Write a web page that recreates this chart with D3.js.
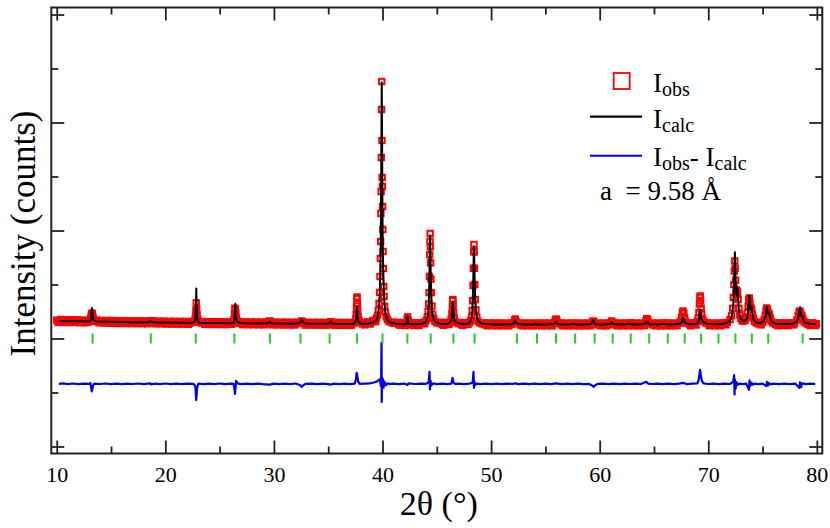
<!DOCTYPE html>
<html>
<head>
<meta charset="utf-8">
<script src="https://cdn.jsdelivr.net/npm/d3@7"></script>
<style>
  body { margin: 0; background: #fff; }
  text { font-family: "Liberation Serif", "Times New Roman", serif; fill: #000; }
</style>
</head>
<body>
<div id="chart"></div>
<script>
// observed intensity, [2theta, counts]
const iObs = [
  [10.0,340],[10.25,312],[10.5,345],[10.75,318],[11.0,335],[11.25,305],[11.5,330],[11.75,340],[12.0,300],[12.25,328],[12.5,310],[12.75,332],
  [12.95,318],[13.05,335],[13.12,370],[13.17,410],[13.21,455],[13.25,470],[13.29,440],[13.33,400],[13.38,360],[13.45,330],[13.55,318],
  [13.75,325],[14.0,300],[14.25,322],[14.5,305],[14.75,330],[15.0,296],[15.25,318],[15.5,300],[15.75,325],[16.0,292],[16.25,315],[16.5,305],
  [16.75,290],[17.0,320],[17.25,298],[17.5,310],[17.75,285],[18.0,315],[18.25,290],[18.5,305],[18.62,320],[18.68,330],[18.75,300],
  [19.0,285],[19.25,308],[19.5,290],[19.75,315],[20.0,280],[20.25,302],[20.5,288],[20.75,306],[21.0,300],[21.25,278],[21.5,300],[21.75,285],
  [22.0,303],[22.25,280],[22.5,298],
  [22.65,305],[22.72,340],[22.77,400],[22.81,520],[22.85,660],[22.89,560],[22.93,440],[22.98,360],[23.05,320],[23.15,300],
  [23.35,285],[23.6,298],[23.85,276],[24.1,296],[24.35,280],[24.6,292],[24.85,272],[25.1,295],[25.35,278],[25.6,290],[25.85,270],[26.1,292],
  [26.25,300],[26.32,350],[26.37,450],[26.41,560],[26.45,540],[26.5,470],[26.56,380],[26.63,320],[26.72,295],
  [26.85,278],[27.1,290],[27.35,270],[27.6,288],[27.85,268],[28.1,285],[28.35,272],[28.6,290],[28.85,265],[29.1,284],[29.35,270],
  [29.52,300],[29.6,325],[29.68,315],[29.78,290],
  [30.0,268],[30.25,285],[30.5,262],[30.75,282],[31.0,270],[31.25,288],[31.5,262],[31.75,280],[32.0,268],[32.25,285],
  [32.45,300],[32.55,325],[32.65,310],[32.8,285],
  [33.0,262],[33.25,280],[33.5,265],[33.75,283],[34.0,260],[34.25,278],[34.5,266],[34.75,285],[35.0,262],
  [35.15,300],[35.23,310],[35.32,285],
  [35.5,262],[35.75,280],[36.0,258],[36.25,276],[36.5,265],[36.75,282],[37.0,258],[37.25,275],
  [37.45,300],[37.53,360],[37.58,460],[37.61,600],[37.64,740],[37.66,769],[37.69,650],[37.72,520],[37.77,400],[37.84,330],[37.95,295],
  [38.15,270],[38.4,285],[38.65,282],[38.9,300],[39.1,315],[39.3,340],[39.45,380],
  [39.55,430],[39.62,520],[39.68,650],[39.73,852],[39.77,1148],[39.8,1482],[39.83,1796],[39.85,2315],[39.87,2722],[39.89,3352],[39.91,4241],
  [39.93,4759],[39.95,3667],[39.97,2982],[39.99,2815],[40.01,2445],[40.03,2019],[40.05,1611],[40.08,1296],[40.11,963],[40.15,780],[40.2,593],
  [40.27,480],[40.35,400],[40.45,350],[40.6,315],[40.8,300],[41.0,280],[41.25,290],
  [41.5,262],[41.75,280],[42.0,265],[42.2,290],[42.27,360],[42.32,400],[42.38,330],[42.45,285],
  [42.7,262],[42.95,278],[43.2,262],[43.45,280],[43.7,290],[43.9,305],
  [44.05,340],[44.13,400],[44.2,500],[44.25,640],[44.29,850],[44.32,1150],[44.35,1550],[44.37,1800],[44.39,1945],[44.41,1700],[44.43,1400],
  [44.46,1100],[44.5,850],[44.55,600],[44.62,450],[44.7,370],[44.82,320],[45.0,290],[45.25,280],
  [45.5,262],[45.75,278],[46.0,280],
  [46.25,310],[46.33,360],[46.39,460],[46.43,590],[46.46,700],[46.48,722],[46.51,620],[46.55,480],[46.6,380],[46.68,320],[46.8,292],[47.0,275],
  [47.25,262],[47.5,278],[47.75,275],[48.0,295],
  [48.12,330],[48.2,400],[48.26,520],[48.3,700],[48.34,980],[48.37,1300],[48.4,1620],[48.42,1741],[48.44,1600],[48.47,1300],[48.5,1000],
  [48.55,720],[48.6,530],[48.68,400],[48.8,320],[48.95,290],[49.15,272],
  [49.4,258],[49.65,275],[49.9,255],[50.15,272],[50.4,250],[50.65,268],[50.9,252],[51.15,270],[51.4,248],[51.65,266],[51.9,258],
  [52.08,290],[52.17,340],[52.23,361],[52.32,310],[52.45,275],
  [52.7,250],[52.95,268],[53.2,248],[53.45,266],[53.7,252],[53.95,270],[54.08,285],[54.18,270],
  [54.45,250],[54.7,268],[54.95,248],[55.2,266],[55.45,250],[55.7,270],
  [55.85,300],[55.93,345],[56.0,361],[56.08,320],[56.2,280],
  [56.45,252],[56.7,268],[56.95,248],[57.2,266],[57.45,252],[57.7,280],[57.95,255],[58.2,268],[58.45,248],[58.7,265],[58.95,252],[59.2,272],
  [59.32,300],[59.4,324],[59.48,305],[59.6,270],
  [59.85,250],[60.1,268],[60.35,248],[60.6,266],[60.85,255],
  [61.02,290],[61.1,324],[61.18,300],[61.3,270],
  [61.55,250],[61.8,266],[62.05,248],[62.3,268],[62.55,252],[62.8,290],[62.9,280],[63.1,255],[63.35,268],[63.6,250],[63.85,266],[64.1,270],
  [64.25,320],[64.33,370],[64.41,350],[64.5,300],[64.65,270],
  [64.9,250],[65.15,268],[65.4,252],[65.65,266],[65.9,280],[66.05,285],[66.3,255],[66.55,268],[66.8,250],[67.05,270],[67.3,285],
  [67.45,320],[67.55,400],[67.62,480],[67.68,509],[67.75,470],[67.82,390],[67.9,320],[68.05,285],
  [68.3,262],[68.55,275],[68.8,285],[69.0,320],
  [69.08,380],[69.14,480],[69.19,640],[69.23,760],[69.26,787],[69.3,700],[69.35,560],[69.4,450],[69.47,370],[69.58,320],[69.75,290],
  [70.0,270],[70.25,255],[70.5,268],[70.75,252],[71.0,266],[71.25,262],[71.5,280],[71.75,300],[72.0,350],[72.15,420],
  [72.25,560],[72.31,760],[72.36,1000],[72.4,1250],[72.44,1435],[72.48,1300],[72.52,1080],[72.56,900],[72.6,830],[72.65,880],[72.7,850],
  [72.75,720],[72.82,560],[72.9,440],[73.0,370],[73.12,330],[73.25,320],[73.4,340],[73.52,400],
  [73.6,480],[73.67,600],[73.73,720],[73.78,750],[73.83,680],[73.88,580],[73.94,560],[74.0,540],[74.06,450],[74.14,380],[74.25,320],[74.4,290],
  [74.6,270],[74.8,285],[75.0,300],[75.15,350],
  [75.25,430],[75.32,510],[75.38,565],[75.44,540],[75.5,480],[75.56,470],[75.63,440],[75.7,380],[75.8,320],[75.95,285],
  [76.2,262],[76.45,278],[76.7,258],[76.95,272],[77.2,260],[77.45,275],[77.7,268],[77.95,290],[78.15,340],
  [78.28,420],[78.36,490],[78.43,509],[78.5,470],[78.57,430],[78.64,420],[78.72,360],[78.82,310],[79.0,280],
  [79.2,262],[79.45,278],[79.7,260],[79.95,275],
  // in-between background points
  [10.125,298],[10.375,352],[10.625,296],[10.875,348],[11.125,294],[11.375,350],[11.625,298],[11.875,344],[12.125,292],[12.375,342],
  [12.625,290],[12.875,300],[13.625,340],[13.875,290],[14.125,336],[14.375,284],[14.625,334],[14.875,282],[15.125,333],[15.375,280],
  [15.625,331],[15.875,278],[16.125,330],[16.375,277],[16.625,329],[16.875,276],[17.125,328],[17.375,275],[17.625,327],[17.875,274],
  [18.125,324],[18.375,272],[18.875,323],[19.125,271],[19.375,322],[19.625,270],[19.875,320],[20.125,267],[20.375,319],[20.625,266],
  [20.875,318],[21.125,265],[21.375,317],[21.625,264],[21.875,316],[22.125,263],[22.375,315],
  [23.375,314],[23.625,262],[23.875,313],[24.125,260],[24.375,312],[24.625,259],[24.875,311],[25.125,258],[25.375,310],[25.625,257],
  [25.875,309],[26.125,262],
  [26.875,308],[27.125,256],[27.375,307],[27.625,255],[27.875,306],[28.125,254],[28.375,306],[28.625,253],[28.875,305],[29.125,253],
  [29.375,304],[29.875,252],[30.125,303],[30.375,251],[30.625,303],[30.875,250],[31.125,302],[31.375,250],[31.625,301],[31.875,249],
  [32.125,301],[32.875,248],[33.125,300],[33.375,248],[33.625,300],[33.875,247],[34.125,299],[34.375,246],[34.625,298],[34.875,245],
  [35.375,298],[35.625,245],[35.875,297],[36.125,244],[36.375,297],[36.625,244],[36.875,297],[37.125,246],[37.375,292],
  [38.125,300],[38.375,252],[38.625,308],[38.875,268],[39.125,332],[39.375,312],
  [41.375,300],[41.625,244],[41.875,294],[42.125,240],[42.625,293],[42.875,240],[43.125,293],[43.375,241],[43.625,294],[43.875,272],
  [45.375,300],[45.625,244],[45.875,298],[46.125,258],[47.125,298],[47.375,244],[47.625,296],[47.875,260],
  [49.375,290],[49.625,236],[49.875,289],[50.125,236],[50.375,288],[50.625,235],[50.875,288],[51.125,235],[51.375,287],[51.625,234],
  [51.875,288],[52.625,287],[52.875,234],[53.125,288],[53.375,234],[53.625,287],[53.875,233],[54.375,287],[54.625,234],[54.875,288],
  [55.125,234],[55.375,287],[55.625,233],[56.375,288],[56.625,234],[56.875,287],[57.125,233],[57.375,288],[57.625,236],[57.875,287],
  [58.125,233],[58.375,287],[58.625,234],[58.875,288],[59.125,236],[59.875,287],[60.125,234],[60.375,287],[60.625,233],[60.875,288],
  [61.375,287],[61.625,233],[61.875,287],[62.125,234],[62.375,288],[62.625,234],[62.875,289],[63.125,235],[63.375,287],[63.625,233],
  [63.875,287],[64.125,237],[64.875,288],[65.125,234],[65.375,287],[65.625,233],[65.875,288],[66.125,235],[66.375,288],[66.625,233],
  [66.875,287],[67.125,236],[67.375,292],[68.125,292],[68.375,236],[68.625,290],[68.875,248],
  [69.875,292],[70.125,236],[70.375,288],[70.625,235],[70.875,288],[71.125,236],[71.375,291],[71.625,252],
  [74.625,298],[74.875,252],[76.125,292],[76.375,238],[76.625,290],[76.875,238],[77.125,291],[77.375,239],[77.625,292],[77.875,252],
  [79.125,292],[79.375,240],[79.625,291],[79.875,241]
];

// calculated profile, [2theta, counts]
const iCalc = [
  [10.2,324],[11,321],[12,318],[12.8,315],
  [13.0,322],[13.1,335],[13.17,380],[13.21,470],[13.25,565],[13.29,470],[13.33,385],[13.4,340],[13.5,323],[13.7,315],
  [14,312],[15,309],[16,306],[17,303],[18,301],[18.5,300],[18.6,318],[18.65,325],[18.72,312],[18.85,300],
  [19.5,297],[20,294],[20.9,292],[21.0,306],[21.1,292],[22,290],[22.5,289],
  [22.65,300],[22.72,330],[22.78,420],[22.82,640],[22.85,926],[22.88,640],[22.92,420],[22.98,330],[23.05,300],[23.2,292],[23.5,288],
  [24,286],[25,285],[26,283],[26.2,285],
  [26.3,300],[26.37,360],[26.41,480],[26.45,643],[26.49,480],[26.53,370],[26.6,320],[26.7,300],[26.9,288],
  [27.5,281],[28.5,279],[29.3,278],[29.5,290],[29.6,318],[29.7,290],[29.9,278],
  [30.5,276],[31.5,275],[32.2,276],[32.4,290],[32.5,330],[32.55,352],[32.62,320],[32.75,285],[33,276],
  [34,272],[34.9,271],[35.1,285],[35.2,320],[35.28,290],[35.45,272],
  [36,270],[37,269],[37.35,275],
  [37.48,295],[37.56,350],[37.61,460],[37.65,598],[37.69,460],[37.74,350],[37.82,300],[37.95,282],[38.2,274],
  [38.6,274],[39.0,285],[39.3,310],[39.5,360],
  [39.6,460],[39.68,600],[39.74,800],[39.79,1150],[39.83,1650],[39.86,2300],[39.89,3300],[39.91,4100],[39.93,4741],[39.95,4100],
  [39.97,3300],[40.0,2300],[40.03,1650],[40.07,1250],[40.12,900],[40.18,650],[40.26,480],[40.4,360],[40.6,310],[40.9,285],[41.3,272],
  [41.8,266],[42.2,266],[42.25,300],[42.3,426],[42.35,300],[42.45,268],
  [43,264],[43.6,268],[43.9,290],
  [44.05,330],[44.15,400],[44.22,520],[44.27,700],[44.31,1000],[44.34,1450],[44.38,1908],[44.42,1450],[44.45,1100],[44.49,800],
  [44.55,560],[44.63,420],[44.75,340],[44.95,295],[45.3,275],
  [45.8,268],[46.1,275],
  [46.3,320],[46.37,380],[46.42,500],[46.47,691],[46.52,500],[46.57,390],[46.65,320],[46.8,290],[47.2,273],
  [47.7,270],[48.0,285],
  [48.1,320],[48.2,390],[48.27,520],[48.32,760],[48.36,1100],[48.39,1450],[48.42,1709],[48.45,1450],[48.49,1050],[48.54,720],
  [48.6,520],[48.7,380],[48.85,310],[49.1,280],[49.5,268],
  [50,263],[51,261],[52,262],[52.1,285],[52.2,339],[52.28,300],[52.45,268],[53,261],
  [54,261],[54.1,278],[54.2,261],[55,260],[55.8,270],[55.9,300],[55.97,320],[56.05,290],[56.2,265],
  [57,260],[57.7,272],[57.8,260],[58.5,260],[59.2,268],[59.33,300],[59.4,339],[59.47,300],[59.6,266],
  [60.3,260],[61.0,275],[61.1,302],[61.2,275],[61.5,262],
  [62.3,260],[62.8,278],[62.9,262],[63.5,260],[64.2,275],[64.3,300],[64.38,315],[64.45,290],[64.6,265],
  [65.3,260],[66.0,272],[66.1,261],[67,262],[67.45,280],
  [67.58,320],[67.65,383],[67.72,360],[67.8,310],[67.95,280],[68.3,266],
  [68.9,270],[69.1,300],
  [69.15,360],[69.2,460],[69.25,537],[69.3,450],[69.37,360],[69.45,330],[69.6,295],[69.9,275],
  [70.5,266],[71.2,268],[71.7,285],[72.0,330],[72.2,440],
  [72.3,650],[72.36,950],[72.41,1300],[72.45,1598],[72.49,1250],[72.55,900],[72.62,800],[72.68,944],[72.73,820],[72.8,560],
  [72.9,420],[73.05,350],[73.3,320],[73.55,360],
  [73.65,450],[73.72,650],[73.78,796],[73.84,620],[73.9,540],[73.98,598],[74.06,470],[74.2,340],[74.45,290],
  [74.8,285],[75.1,320],
  [75.27,420],[75.34,520],[75.4,587],[75.46,500],[75.55,450],[75.62,481],[75.7,400],[75.85,310],[76.2,275],
  [77,268],[77.8,275],[78.2,320],
  [78.32,420],[78.4,530],[78.45,580],[78.52,470],[78.6,410],[78.66,426],[78.75,350],[78.9,290],[79.3,272],[79.85,269]
];

// Iobs - Icalc residual, [2theta, counts]
const iDiff = [
  [10.2,0],[10.6,8],[11,-5],[11.5,6],[12,-4],[12.5,5],[13.0,0],[13.1,15],[13.17,-60],[13.22,-140],[13.27,-110],[13.33,-40],[13.45,5],
  [14,-3],[14.5,6],[15,-5],[15.5,4],[16,-6],[16.5,5],[17,-3],[17.5,6],[18,-4],[18.6,8],[18.7,-10],[19,3],[19.5,-5],[20,6],[20.5,-4],
  [21,5],[21.5,-6],[22,4],[22.6,0],[22.75,-40],[22.8,-150],[22.84,-300],[22.88,-200],[22.94,-60],[23.05,5],[23.5,-4],[24,5],[24.5,-5],
  [25,6],[25.5,-4],[26,4],[26.3,0],[26.36,-80],[26.41,-185],[26.46,-90],[26.52,55],[26.58,30],[26.7,5],[27,-4],[27.5,5],[28,-5],
  [28.5,4],[29,-6],[29.6,-15],[30,4],[30.5,-5],[31,5],[31.5,-4],[32,6],[32.4,-20],[32.55,-55],[32.7,-30],[32.9,0],[33.5,5],[34,-4],
  [34.5,5],[35,-5],[35.2,-15],[35.5,3],[36,-5],[36.5,5],[37,-4],[37.45,5],[37.55,80],[37.62,205],[37.68,150],[37.76,40],[37.9,0],
  [38.3,5],[38.8,10],[39.2,25],[39.5,45],[39.7,80],[39.8,40],[39.85,-40],[39.88,180],[39.91,760],[39.93,-335],[39.96,120],[39.99,-60],
  [40.04,90],[40.1,-70],[40.18,40],[40.3,-30],[40.45,10],[40.7,-5],[41,5],[41.5,-4],[42,5],[42.3,-20],[42.4,10],[43,-3],[43.5,5],
  [44,0],[44.25,30],[44.33,222],[44.37,-104],[44.42,60],[44.5,-30],[44.65,10],[45,-4],[45.5,5],[46,-4],[46.35,5],[46.45,111],
  [46.52,30],[46.65,0],[47,5],[47.5,-4],[48,4],[48.3,20],[48.38,222],[48.42,-74],[48.47,40],[48.55,-20],[48.7,5],[49,-4],[49.5,5],
  [50,-5],[50.5,4],[51,-4],[51.5,5],[52,-3],[52.2,10],[52.5,-4],[53,5],[53.5,-4],[54,5],[54.5,-4],[55,5],[55.5,-5],[56,10],
  [56.5,-4],[57,5],[57.5,-4],[58,5],[58.5,-5],[59,0],[59.3,-30],[59.45,-55],[59.6,-25],[59.8,0],[60.3,5],[60.8,-4],[61.3,5],
  [61.8,-5],[62.3,4],[62.8,-3],[63.3,5],[63.8,-4],[64.3,37],[64.45,5],[64.8,-3],[65.3,5],[65.8,-4],[66.3,5],[66.8,-5],[67.3,4],
  [67.7,18],[68,-4],[68.5,5],[69.0,10],[69.12,80],[69.2,200],[69.25,260],[69.3,180],[69.4,60],[69.55,10],[70,-3],[70.5,5],[71,-4],
  [71.5,5],[72,-3],[72.3,40],[72.38,160],[72.42,-196],[72.46,80],[72.52,-90],[72.6,30],[72.7,-20],[72.85,5],[73.2,-4],[73.5,5],
  [73.75,-110],[73.8,65],[73.86,-40],[74.0,20],[74.1,-15],[74.3,5],[74.6,-4],[75.0,5],[75.35,-40],[75.4,35],[75.5,-30],[75.6,20],
  [75.7,-10],[76,4],[76.5,-5],[77,5],[77.5,-4],[78,5],[78.4,-74],[78.45,30],[78.55,-60],[78.65,10],[79,-4],[79.4,5],[79.85,-3]
];
const diffOffset = -840;

// Bragg reflection positions (2theta)
const braggPos = [13.30, 18.66, 22.80, 26.36, 29.63, 32.45, 35.13, 37.66, 40.00, 42.29, 44.44, 46.53, 48.48, 52.38, 54.23,
  55.98, 57.74, 59.54, 61.20, 62.86, 64.56, 66.27, 67.83, 69.34, 70.94, 72.50, 74.01, 75.52, 78.69];

const xMajorTicks = [10, 20, 30, 40, 50, 60, 70, 80];
const xMinorTicks = [15, 25, 35, 45, 55, 65, 75];
const yMajorTicks = [-2000, 0, 2000, 4000, 6000];
const yMinorTicks = [-1000, 1000, 3000, 5000];
const latticeText = "a  = 9.58 Å";

const W = 830, H = 528;
const box = { left: 51.3, right: 822.3, top: 7.5, bottom: 453.5 };

const svg = d3.select("#chart").append("svg")
  .attr("width", W)
  .attr("height", H);

const x = d3.scaleLinear().domain([9.5, 80.5]).range([box.left, box.right]);
const y = d3.scaleLinear().domain([-2130, 6130]).range([box.bottom, box.top]);

// observed points: hollow red squares
const s = 5.4;
svg.append("g")
  .selectAll("rect")
  .data(iObs)
  .join("rect")
  .attr("x", d => x(d[0]) - s / 2)
  .attr("y", d => y(d[1]) - s / 2)
  .attr("width", s)
  .attr("height", s)
  .attr("fill", "none")
  .attr("stroke", "#ff0000")
  .attr("stroke-width", 2);

const line = d3.line().x(d => x(d[0])).y(d => y(d[1]));

// calculated
svg.append("path")
  .datum(iCalc)
  .attr("d", line)
  .attr("fill", "none")
  .attr("stroke", "#000")
  .attr("stroke-width", 2)
  .attr("stroke-linejoin", "round");

// difference curve
svg.append("path")
  .datum(iDiff.map(d => [d[0], d[1] + diffOffset]))
  .attr("d", line)
  .attr("fill", "none")
  .attr("stroke", "#0000e6")
  .attr("stroke-width", 2.2)
  .attr("stroke-linejoin", "round");

// Bragg ticks
svg.append("g")
  .selectAll("line")
  .data(braggPos)
  .join("line")
  .attr("x1", d => x(d)).attr("x2", d => x(d))
  .attr("y1", y(0) - 5).attr("y2", y(0) + 5)
  .attr("stroke", "#22cc22")
  .attr("stroke-width", 2);

// axes: ticks inward on all four sides
function addAxis(axis, transform) {
  const g = svg.append("g").attr("transform", transform).call(axis);
  g.select(".domain").remove();
  g.selectAll(".tick line").attr("stroke", "#222").attr("stroke-width", 1.8);
  return g;
}
const bottomAxis = addAxis(d3.axisBottom(x).tickValues(xMajorTicks).tickSize(-13).tickPadding(13).tickFormat(d3.format("d")),
  `translate(0,${box.bottom})`);
bottomAxis.selectAll("text")
  .style("font-family", '"Liberation Serif", "Times New Roman", serif')
  .style("font-size", "22px")
  .attr("fill", "#000");
addAxis(d3.axisBottom(x).tickValues(xMinorTicks).tickSize(-7).tickFormat(""), `translate(0,${box.bottom})`);
addAxis(d3.axisTop(x).tickValues(xMajorTicks).tickSize(-13).tickFormat(""), `translate(0,${box.top})`);
addAxis(d3.axisTop(x).tickValues(xMinorTicks).tickSize(-7).tickFormat(""), `translate(0,${box.top})`);
addAxis(d3.axisLeft(y).tickValues(yMajorTicks).tickSize(-13).tickFormat(""), `translate(${box.left},0)`);
addAxis(d3.axisLeft(y).tickValues(yMinorTicks).tickSize(-7).tickFormat(""), `translate(${box.left},0)`);
addAxis(d3.axisRight(y).tickValues(yMajorTicks).tickSize(-13).tickFormat(""), `translate(${box.right},0)`);
addAxis(d3.axisRight(y).tickValues(yMinorTicks).tickSize(-7).tickFormat(""), `translate(${box.right},0)`);

// frame
svg.append("rect")
  .attr("x", box.left).attr("y", box.top)
  .attr("width", box.right - box.left)
  .attr("height", box.bottom - box.top)
  .attr("fill", "none")
  .attr("stroke", "#222")
  .attr("stroke-width", 2);

// axis titles
svg.append("text")
  .attr("x", (box.left + box.right) / 2 + 2)
  .attr("y", 515)
  .attr("text-anchor", "middle")
  .style("font-size", "34px")
  .text("2θ (°)");

svg.append("text")
  .attr("transform", `translate(35,${(box.top + box.bottom) / 2 + 3}) rotate(-90)`)
  .attr("text-anchor", "middle")
  .style("font-size", "35px")
  .text("Intensity (counts)");

// legend
const leg = svg.append("g");
leg.append("rect")
  .attr("x", 613.7).attr("y", 73).attr("width", 16).attr("height", 16)
  .attr("fill", "none").attr("stroke", "#ff0000").attr("stroke-width", 1.8);
leg.append("line")
  .attr("x1", 590).attr("x2", 642).attr("y1", 116.7).attr("y2", 116.7)
  .attr("stroke", "#000").attr("stroke-width", 2.2);
leg.append("line")
  .attr("x1", 590).attr("x2", 642).attr("y1", 155.7).attr("y2", 155.7)
  .attr("stroke", "#0000e6").attr("stroke-width", 2);

function subLabel(xp, yp, parts) {
  const t = leg.append("text").attr("x", xp).attr("y", yp).style("font-size", "27px");
  parts.forEach(p => {
    t.append("tspan")
      .attr("dy", p.sub ? 4 : (p.back ? -4 : 0))
      .style("font-size", p.sub ? "20px" : "27px")
      .text(p.t);
  });
}
subLabel(653, 91.5, [{ t: "I" }, { t: "obs", sub: true }]);
subLabel(653, 128, [{ t: "I" }, { t: "calc", sub: true }]);
subLabel(653, 166, [{ t: "I" }, { t: "obs", sub: true }, { t: "-\u00a0I", back: true }, { t: "calc", sub: true }]);

leg.append("text")
  .attr("x", 600).attr("y", 200)
  .style("font-size", "27px")
  .style("white-space", "pre")
  .text(latticeText);
</script>
</body>
</html>
